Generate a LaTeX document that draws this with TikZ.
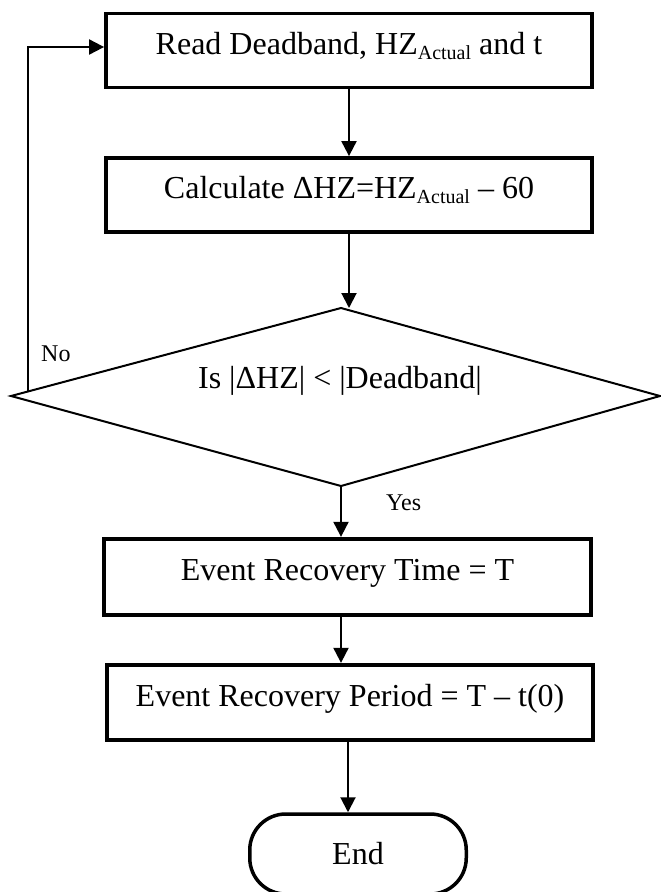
\documentclass[tikz,border=0pt]{standalone}
\usepackage{fontspec}
\setmainfont{Liberation Serif}
\usetikzlibrary{arrows.meta,calc}
\newcommand\subAct{\raisebox{-5pt}{\fontsize{20}{20}\selectfont Actual}}
\begin{document}
\begin{tikzpicture}[x=1pt,y=-1pt,
  procbox/.style={draw, line width=3.8pt, minimum width=486pt, minimum height=74pt,
    inner sep=0pt, font=\fontsize{32}{38}\selectfont, text height=22pt, text depth=15pt},
  arr/.style={line width=2pt, -{Triangle[length=15pt,width=15pt]}},
  lbl/.style={font=\fontsize{24}{28}\selectfont, inner sep=0pt, anchor=base west},
]
\useasboundingbox (0,0) rectangle (661,892);

\node[procbox] (b1) at (349,50.5) {Read Deadband, HZ\subAct{} and t};
\node[procbox] (b2) at (349,195) {Calculate ΔHZ=HZ\subAct{} \textendash{} 60};
\node[procbox, minimum height=76.5pt, minimum width=487.5pt] (b3) at (347.5,577) {Event Recovery Time = T};
\node[procbox, minimum height=75.5pt] (b4) at (350,702.5) {Event Recovery Period = T \textendash{} t(0)};

\coordinate (dL) at (11,396);
\coordinate (dR) at (660,396);
\coordinate (dT) at (341,308);
\coordinate (dB) at (341,486);
\draw[line width=2pt] (dL) -- (dT) -- (dR) -- (dB) -- cycle;
\node[font=\fontsize{32}{38}\selectfont, anchor=base, inner sep=0pt] (dtxt) at (340,388) {Is |ΔHZ| < |Deadband|};

\node[lbl] (no) at (41,361) {No};
\node[lbl] (yes) at (386,510) {Yes};

\node[draw, line width=3.5pt, rounded corners=36pt, minimum width=216.5pt, minimum height=80pt,
  inner sep=0pt, font=\fontsize{32}{38}\selectfont] (endn) at (358,854) {End};

\draw[arr] (b1.south) -- (b2.north);
\draw[arr] (b2.south) -- (b2.south |- dT);
\draw[arr] (dB) -- (dB |- b3.north);
\draw[arr] ([xshift=-6.5pt]b3.south) -- ([xshift=-6.5pt]b3.south |- b4.north);
\draw[arr] ([xshift=-2pt]b4.south) -- ([xshift=-2pt]b4.south |- endn.north);
\coordinate (nostart) at (28,391.4);
\draw[arr] (nostart) |- ([yshift=3.5pt]b1.west);
\end{tikzpicture}
\end{document}
